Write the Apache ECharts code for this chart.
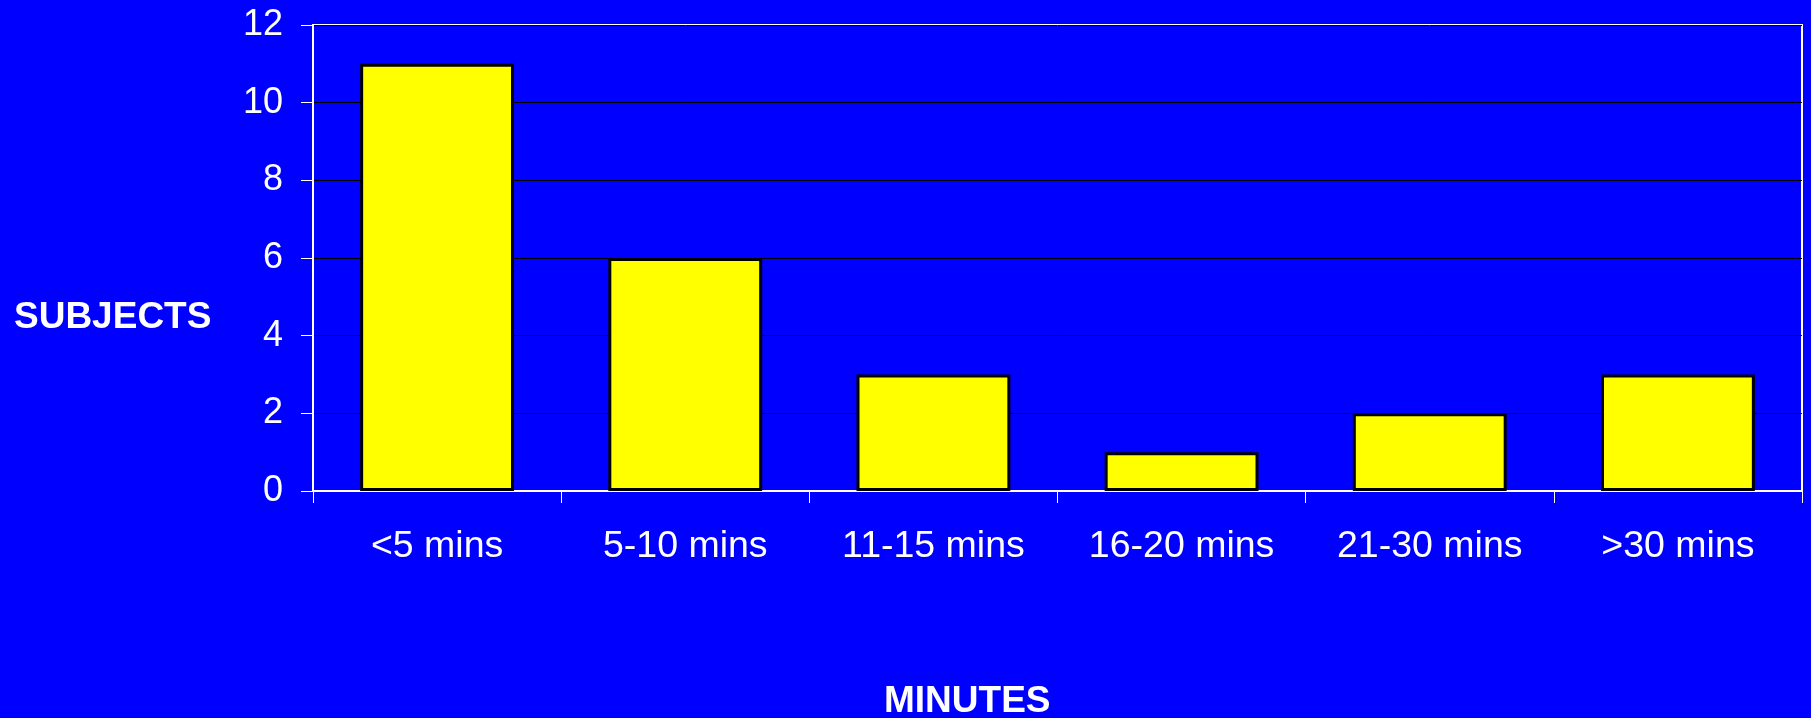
<!DOCTYPE html>
<html>
<head>
<meta charset="utf-8">
<script src="https://cdn.jsdelivr.net/npm/echarts@6/dist/echarts.min.js"></script>
<style>
  html, body { margin: 0; padding: 0; background: #0000FF; }
  #chart { width: 1811px; height: 718px; }
</style>
</head>
<body>
<div id="chart"></div>
<script>
// Time taken, grouped into bands, and how many subjects fell into each band
const categories = ['<5 mins', '5-10 mins', '11-15 mins', '16-20 mins', '21-30 mins', '>30 mins'];
const subjects = [11, 6, 3, 1, 2, 3];
const yTicks = { min: 0, max: 12, interval: 2 };
const yTitle = 'SUBJECTS';
const xTitle = 'MINUTES';

const chart = echarts.init(document.getElementById('chart'), null, { renderer: 'canvas' });
const font = 'Liberation Sans, Arial, Helvetica, sans-serif';

chart.setOption({
  backgroundColor: '#0000FF',
  animation: false,
  grid: {
    left: 313, right: 9, top: 25, bottom: 227,
    show: true, borderColor: '#FFFFFF', borderWidth: 2, backgroundColor: 'transparent'
  },
  xAxis: {
    type: 'category',
    data: categories,
    boundaryGap: true,
    axisLine: { lineStyle: { color: '#FFFFFF', width: 2 } },
    axisTick: { show: true, inside: false, length: 12, alignWithLabel: false, lineStyle: { color: '#FFFFFF', width: 1 } },
    axisLabel: { color: '#FFFFFF', fontFamily: font, fontSize: 37.5, margin: 37 },
    splitLine: { show: false }
  },
  yAxis: {
    type: 'value',
    min: yTicks.min, max: yTicks.max, interval: yTicks.interval,
    axisLine: { show: true, lineStyle: { color: '#FFFFFF', width: 2 } },
    axisTick: { show: true, inside: false, length: 12, lineStyle: { color: '#FFFFFF', width: 1 } },
    axisLabel: { color: '#FFFFFF', fontFamily: font, fontSize: 36, margin: 30 },
    splitLine: { show: true, lineStyle: { color: '#000000', width: 1 } }
  },
  graphic: [
    {
      type: 'text', left: 14, top: 299,
      style: { text: yTitle, fill: '#FFFFFF', font: 'bold 37px ' + font }
    },
    {
      type: 'text', left: 884, top: 683,
      style: { text: xTitle, fill: '#FFFFFF', font: 'bold 37px ' + font }
    }
  ],
  series: [{
    type: 'bar',
    data: subjects,
    barWidth: '62%',
    itemStyle: { color: '#FFFF00', borderColor: '#000000', borderWidth: 3 }
  }]
});
</script>
</body>
</html>
